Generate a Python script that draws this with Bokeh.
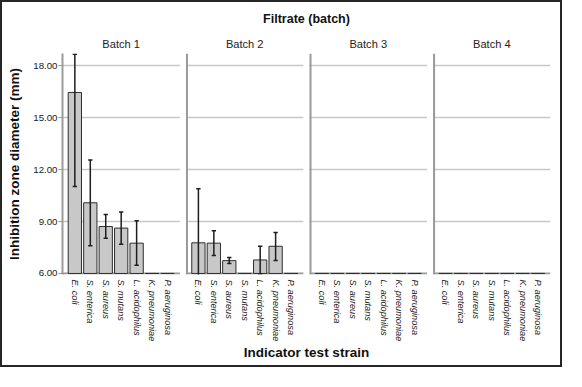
import math
from bokeh.plotting import figure
from bokeh.models import FixedTicker, ColumnDataSource, LinearAxis, PrintfTickFormatter
from bokeh.embed import file_html
from bokeh.resources import INLINE

# ---------------- data ----------------
batches = ["Batch 1", "Batch 2", "Batch 3", "Batch 4"]
strains = ["E. coli", "S. enterica", "S. aureus", "S. mutans",
           "L. acidophilus", "K. pneumoniae", "P. aeruginosa"]
mean_b1 = [16.45, 10.08, 8.71, 8.62, 7.75, 6.0, 6.0]
low_b1 = [11.02, 7.60, 8.03, 7.68, 6.48, 6.0, 6.0]
high_b1 = [18.65, 12.55, 9.40, 9.55, 9.05, 6.0, 6.0]
mean_b2 = [7.77, 7.75, 6.74, 6.0, 6.78, 7.57, 6.0]
low_b2 = [4.65, 7.03, 6.57, 6.0, 5.99, 6.75, 6.0]
high_b2 = [10.89, 8.47, 6.92, 6.0, 7.57, 8.36, 6.0]
mean_b3 = [6.0, 6.0, 6.0, 6.0, 6.0, 6.0, 6.0]
mean_b4 = [6.0, 6.0, 6.0, 6.0, 6.0, 6.0, 6.0]
y_ticks = [6, 9, 12, 15, 18]
y_min, y_max = 5.94, 18.7
baseline = 6.0

means = [mean_b1, mean_b2, mean_b3, mean_b4]
lows = [low_b1, low_b2, mean_b3, mean_b4]
highs = [high_b1, high_b2, mean_b3, mean_b4]

# ---------------- layout constants ----------------
SLOT = 100          # distance between bar centres (x units)
PAD = 80            # first/last bar centre to panel edge
STEP = 800          # panel-to-panel step
BAR_W = 86
CAP = 14
W, H = 562, 367
ML, MR, MT, MB = 60, 14, 51, 95

FONT = "Liberation Sans"
GRID_C = "#c8c8c8"
AXIS_C = "#9a9a9a"

x_start = -PAD
x_end = (len(batches) - 1) * STEP + (len(strains) - 1) * SLOT + PAD

p = figure(width=W, height=H, x_range=(x_start, x_end), y_range=(y_min, y_max),
           output_backend="svg", toolbar_location=None,
           min_border_left=ML, min_border_right=MR, min_border_top=MT,
           min_border_bottom=MB, background_fill_color="white",
           border_fill_color="white",
           styles={"border": "2px solid #262626"})
p.outline_line_color = None
p.xgrid.visible = False
p.ygrid.visible = False

# bar data
xs, tops, lo, hi, ticks, overrides = [], [], [], [], [], {}
for b in range(len(batches)):
    for i, s in enumerate(strains):
        x = b * STEP + i * SLOT
        xs.append(x)
        tops.append(means[b][i])
        lo.append(lows[b][i])
        hi.append(highs[b][i])
        ticks.append(x)
        overrides[x] = s

# panel grid lines / frames
for b in range(len(batches)):
    left = b * STEP - PAD
    right = b * STEP + (len(strains) - 1) * SLOT + PAD
    gy = [t for t in y_ticks if t > baseline]
    p.segment(x0=[left] * len(gy), x1=[right] * len(gy), y0=gy, y1=gy,
              line_color=GRID_C, line_width=1.5)
    p.segment(x0=[left], x1=[right], y0=[baseline], y1=[baseline],
              line_color=AXIS_C, line_width=2)
    if b > 0:
        p.segment(x0=[left + 6], x1=[left + 6], y0=[y_min], y1=[y_max],
                  line_color=AXIS_C, line_width=2)

src = ColumnDataSource(dict(x=xs, top=tops, lo=lo, hi=hi,
                            xl=[v - CAP for v in xs], xr=[v + CAP for v in xs]))
p.vbar(x="x", width=BAR_W, bottom=baseline, top="top", source=src,
       fill_color="#c8c8c8", line_color="#2e2e2e", line_width=1)

# error bars (only where there is spread)
esrc = ColumnDataSource({k: [v for v, a, c in zip(src.data[k], lo, hi) if c > a]
                         for k in src.data})
p.segment(x0="x", x1="x", y0="lo", y1="hi", source=esrc,
          line_color="#1e1e1e", line_width=1.5)
p.segment(x0="xl", x1="xr", y0="hi", y1="hi", source=esrc,
          line_color="#1e1e1e", line_width=1.5)
p.segment(x0="xl", x1="xr", y0="lo", y1="lo", source=esrc,
          line_color="#1e1e1e", line_width=1.5)

# bottom axis: strain names
xa = p.xaxis[0]
xa.ticker = FixedTicker(ticks=ticks)
xa.major_label_overrides = overrides
xa.major_label_orientation = -math.pi / 2
xa.major_label_text_font = FONT
xa.major_label_text_font_style = "italic"
xa.major_label_text_font_size = "9.2px"
xa.major_label_text_color = "#1a1a1a"
xa.major_label_standoff = 5
xa.major_tick_out = 0
xa.major_tick_in = 0
xa.minor_tick_out = 0
xa.minor_tick_in = 0
xa.major_tick_line_color = None
xa.minor_tick_line_color = None
xa.axis_line_color = None
xa.axis_label = "Indicator test strain"
xa.axis_label_text_font = FONT
xa.axis_label_text_font_style = "bold"
xa.axis_label_text_font_size = "13.5px"
xa.axis_label_text_color = "#111111"
xa.axis_label_standoff = 1

# top axis: batch names + overall title
centers = [b * STEP + (len(strains) - 1) * SLOT / 2 for b in range(len(batches))]
top_ax = LinearAxis(ticker=FixedTicker(ticks=centers),
                    major_label_overrides={c: n for c, n in zip(centers, batches)},
                    axis_label="Filtrate (batch)")
top_ax.axis_line_color = None
top_ax.major_tick_line_color = None
top_ax.minor_tick_line_color = None
top_ax.major_tick_out = 0
top_ax.minor_tick_out = 0
top_ax.major_tick_in = 0
top_ax.minor_tick_in = 0
top_ax.major_label_standoff = 4
top_ax.major_label_text_font = FONT
top_ax.major_label_text_font_size = "11.1px"
top_ax.major_label_text_color = "#222222"
top_ax.axis_label_text_font = FONT
top_ax.axis_label_text_font_style = "bold"
top_ax.axis_label_text_font_size = "12.5px"
top_ax.axis_label_text_color = "#111111"
top_ax.axis_label_standoff = 9
p.add_layout(top_ax, "above")

# left axis
ya = p.yaxis[0]
ya.ticker = FixedTicker(ticks=y_ticks)
ya.formatter = PrintfTickFormatter(format="%.2f")
ya.major_label_text_font = FONT
ya.major_label_text_font_size = "9.7px"
ya.major_label_text_color = "#1a1a1a"
ya.major_label_standoff = 1
ya.major_tick_out = 4
ya.major_tick_in = 0
ya.minor_tick_out = 0
ya.minor_tick_in = 0
ya.major_tick_line_color = AXIS_C
ya.minor_tick_line_color = None
ya.axis_line_color = AXIS_C
ya.axis_line_width = 2
ya.axis_label = "Inhibition zone diameter (mm)"
ya.axis_label_text_font = FONT
ya.axis_label_text_font_style = "bold"
ya.axis_label_text_font_size = "13.5px"
ya.axis_label_text_color = "#111111"
ya.axis_label_standoff = 8

open("out.html", "w").write(file_html(p, INLINE))
